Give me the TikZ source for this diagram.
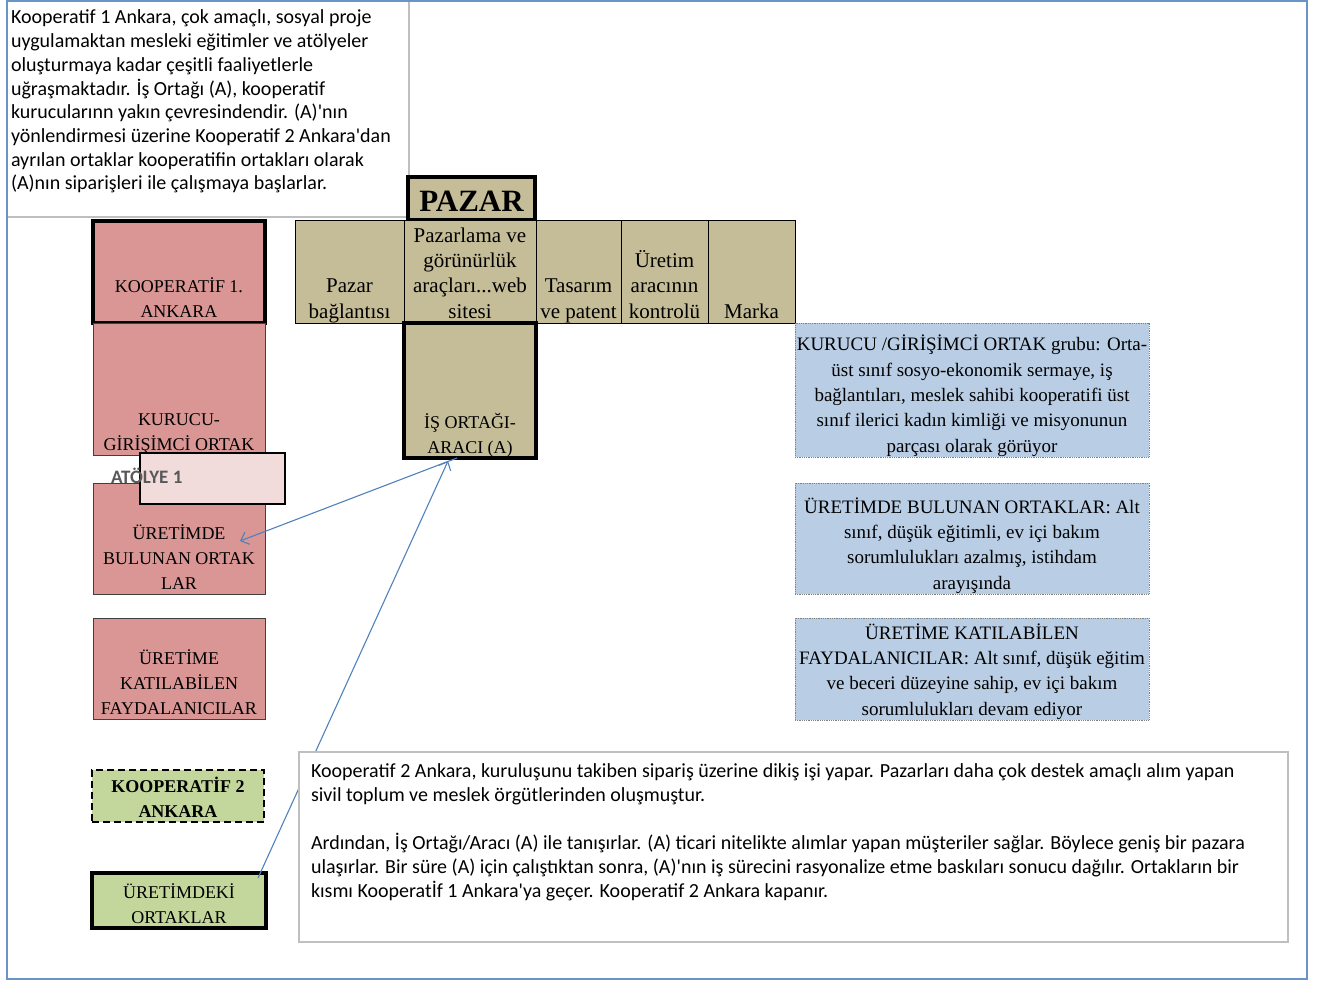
\documentclass[tikz,border=0pt]{standalone}
\usepackage{fontspec}
\setmainfont{Liberation Serif}
\newfontfamily\notefont{Carlito}
\usepackage{xcolor}
\usetikzlibrary{positioning,arrows.meta}

\definecolor{rosefill}{HTML}{D99694}
\definecolor{rosepale}{HTML}{F2DCDB}
\definecolor{khaki}{HTML}{C4BD97}
\definecolor{leaf}{HTML}{C3D69B}
\definecolor{skyfill}{HTML}{B9CDE5}
\definecolor{linkblue}{HTML}{4F81BD}
\definecolor{notegray}{HTML}{BFBFBF}

% text resting on the lower edge of a cell
\newcommand{\bottext}[3]{\parbox[c][\dimexpr#2-5pt\relax][b]{#1}{\centering #3\rule[-5pt]{0pt}{5pt}\par}}
% text hanging from the upper edge of a box
\newcommand{\toptext}[4]{\parbox[c][#2][t]{#1}{\raggedright\rule{0pt}{#3}#4\par}}

\begin{document}
\begin{tikzpicture}[x=1pt, y=-1pt,
      cell/.style={rectangle, draw=black!75, line width=0.8pt, inner sep=0pt, outer sep=0pt, anchor=north west},
      caps/.style={cell, fill=rosefill, font=\fontsize{18}{25}\selectfont},
      heavy/.style={line width=3.5pt, draw=black},
      market/.style={cell, draw=black, fill=khaki, font=\fontsize{21}{25}\selectfont},
      group/.style={cell, fill=skyfill, draw=gray, densely dotted, font=\fontsize{19}{25.3}\selectfont},
      coop/.style={cell, fill=leaf, draw=black, font=\fontsize{18}{25}\selectfont},
      note/.style={cell, fill=white, draw=notegray, line width=1.8pt, inner xsep=4pt, font=\notefont\fontsize{20}{23.7}\selectfont},
      link/.style={draw=linkblue, line width=1.1pt, -{Straight Barb[length=7pt,width=13pt]}}
    ]
    \useasboundingbox (0,0) rectangle (1321,981);

    \node [note] (story1) at (7,0) {\toptext{394pt}{217pt}{24pt}{Kooperatif 1 Ankara,  çok amaçlı, sosyal proje\\
      uygulamaktan mesleki eğitimler ve atölyeler\\
      oluşturmaya kadar çeşitli faaliyetlerle\\
      uğraşmaktadır. İş Ortağı (A), kooperatif\\
      kurucularınn yakın çevresindendir. (A)'nın\\
      yönlendirmesi üzerine Kooperatif 2 Ankara'dan\\
      ayrılan ortaklar kooperatifin ortakları olarak\\
      (A)nın  siparişleri ile  çalışmaya başlarlar.}};

    % market row
    \node [cell, heavy, fill=khaki, minimum width=127pt, minimum height=43pt, text height=26pt, text depth=0pt, font=\fontsize{31}{31}\selectfont\bfseries] (pazar) at (408,177) {PAZAR};
    \node [market] (baglanti) at (295,220) {\bottext{109pt}{103pt}{Pazar\\bağlantısı}};
    \node [market, right=0pt of baglanti] (gorunurluk) {\bottext{132pt}{103pt}{Pazarlama ve\\görünürlük\\araçları...web\\sitesi}};
    \node [market, right=0pt of gorunurluk] (tasarim) {\bottext{85pt}{103pt}{Tasarım\\ve patent}};
    \node [market, right=0pt of tasarim] (kontrol) {\bottext{87pt}{103pt}{Üretim\\aracının\\kontrolü}};
    \node [market, right=0pt of kontrol] (marka) {\bottext{87pt}{103pt}{Marka}};
    \node [market, heavy, below=0pt of gorunurluk, font=\fontsize{18}{25}\selectfont] (isortagi) {\bottext{132pt}{135pt}{İŞ ORTAĞI-\\ARACI (A)}};

    % cooperative 1
    \node [caps, heavy] (koop1) at (93,221) {\bottext{172pt}{102pt}{KOOPERATİF 1.\\ANKARA}};
    \node [caps, below=0pt of koop1] (kurucu) {\bottext{172pt}{132pt}{KURUCU-\\GİRİŞİMCİ ORTAK}};
    \node [caps] (uretimde) at (93,483) {\bottext{172pt}{111pt}{ÜRETİMDE\\BULUNAN ORTAK\\LAR}};
    \node [caps] (katilabilen) at (93,618) {\bottext{172pt}{101pt}{ÜRETİME\\KATILABİLEN\\FAYDALANICILAR}};
    \node [cell, fill=rosepale, draw=black, line width=2.5pt, minimum width=145pt, minimum height=51pt] (atolye) at (140,453) {};
    \node [anchor=base west, inner sep=0pt, text=black!65, font=\notefont\bfseries\fontsize{19}{19}\selectfont] (atolyeyazi) at (111,483) {ATÖLYE 1};

    % cooperative 2
    \node [coop, dash pattern=on 7pt off 4pt, line width=2pt, font=\fontsize{18}{25}\selectfont\bfseries] (koop2) at (92,770) {\bottext{172pt}{52pt}{KOOPERATİF 2\\ANKARA}};
    \node [coop, line width=4pt] (uretimdeki) at (92,873) {\bottext{174pt}{55pt}{ÜRETİMDEKİ\\ORTAKLAR}};

    % member groups
    \node [group] (kurucugrup) at (795,323) {\bottext{354pt}{134pt}{KURUCU /GİRİŞİMCİ ORTAK grubu: Orta-\\üst sınıf sosyo-ekonomik sermaye, iş\\bağlantıları, meslek sahibi kooperatifi üst\\sınıf ilerici kadın kimliği ve misyonunun\\parçası olarak görüyor}};
    \node [group] (uretimdegrup) at (795,483) {\bottext{354pt}{111pt}{ÜRETİMDE BULUNAN ORTAKLAR: Alt\\sınıf, düşük eğitimli, ev içi bakım\\sorumlulukları azalmış, istihdam\\arayışında}};
    \node [group] (faydagrup) at (795,618) {\bottext{354pt}{102pt}{ÜRETİME KATILABİLEN\\FAYDALANICILAR: Alt sınıf, düşük eğitim\\ve beceri düzeyine sahip, ev içi bakım\\sorumlulukları devam ediyor}};

    \path [link] ([xshift=-13pt]isortagi.south) -- ([xshift=-25pt,yshift=-2.5pt]uretimde.east);
    \path [link] ([xshift=-8pt,yshift=-5pt]uretimdeki.north east) -- ([xshift=-22pt,yshift=-3pt]isortagi.south);

    \node [note, line width=2pt, inner xsep=12pt, font=\notefont\fontsize{20}{24}\selectfont] (story2) at (299,752) {\toptext{965pt}{190pt}{25pt}{Kooperatif 2 Ankara,  kuruluşunu takiben sipariş üzerine dikiş işi yapar.  Pazarları daha çok destek amaçlı alım  yapan\\
      sivil toplum ve meslek örgütlerinden oluşmuştur.\\[24pt]
      Ardından, İş Ortağı/Aracı (A) ile tanışırlar. (A) ticari nitelikte  alımlar yapan müşteriler sağlar. Böylece geniş bir pazara\\
      ulaşırlar. Bir süre (A) için çalıştıktan sonra, (A)'nın iş sürecini rasyonalize etme baskıları sonucu dağılır.  Ortakların bir\\
      kısmı Kooperatİf 1 Ankara'ya geçer. Kooperatif 2 Ankara kapanır.}};

    \draw [draw=linkblue!85, line width=1.8pt] (7,1) rectangle (1307,979);
    \end{tikzpicture}
\end{document}
